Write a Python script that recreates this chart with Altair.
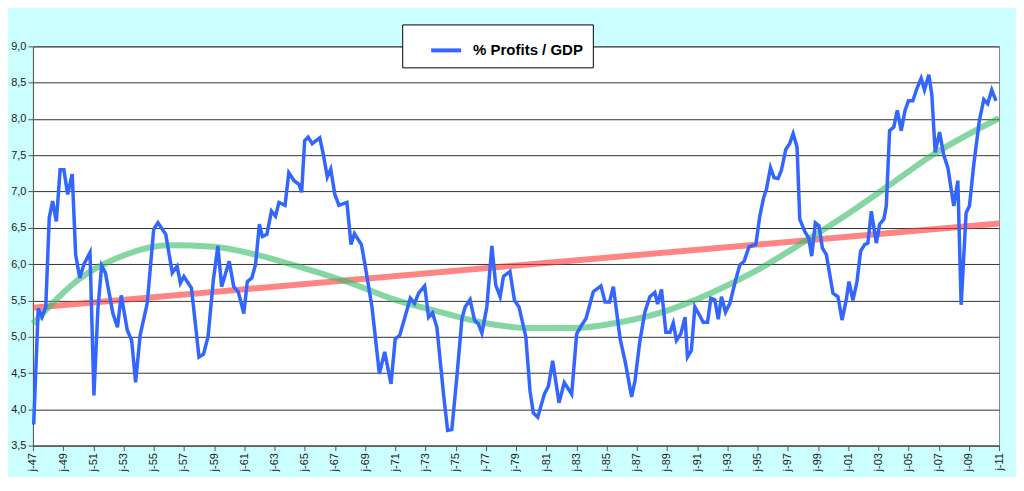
import altair as alt
import pandas as pd

# blue series: (year, % profits / GDP)
profit_year = [
    1947.05, 1947.35, 1947.6, 1947.85, 1948.08, 1948.3, 1948.55, 1948.8, 1949.05, 1949.3,
    1949.6, 1949.83, 1950.1, 1950.38, 1950.78, 1951.04, 1951.3, 1951.55, 1951.8, 1952.3,
    1952.6, 1952.85, 1953.25, 1953.54, 1953.8, 1954.1, 1954.57, 1955.0, 1955.28, 1955.8,
    1956.23, 1956.55, 1956.77, 1957.0, 1957.5, 1958.0, 1958.3, 1958.6, 1958.95, 1959.25,
    1959.5, 1960.0, 1960.3, 1960.6, 1960.97, 1961.2, 1961.5, 1961.75, 1962.0, 1962.2,
    1962.5, 1962.8, 1963.07, 1963.3, 1963.7, 1963.95, 1964.3, 1964.62, 1964.8, 1965.0,
    1965.23, 1965.5, 1966.0, 1966.23, 1966.5, 1966.73, 1967.0, 1967.27, 1967.8, 1968.07,
    1968.3, 1968.76, 1969.0, 1969.46, 1969.95, 1970.3, 1970.72, 1971.0, 1971.3, 1972.0,
    1972.28, 1972.55, 1972.95, 1973.21, 1973.47, 1973.76, 1974.2, 1974.47, 1974.75, 1975.08,
    1975.42, 1975.63, 1975.96, 1976.25, 1976.5, 1976.74, 1977.07, 1977.4, 1977.66, 1977.95,
    1978.17, 1978.6, 1978.9, 1979.2, 1979.65, 1979.93, 1980.15, 1980.44, 1980.88, 1981.15,
    1981.43, 1981.85, 1982.2, 1982.69, 1983.02, 1983.35, 1983.64, 1984.12, 1984.63, 1984.9,
    1985.2, 1985.45, 1985.9, 1986.26, 1986.66, 1986.88, 1987.2, 1987.54, 1987.87, 1988.2,
    1988.38, 1988.64, 1988.93, 1989.2, 1989.42, 1989.63, 1989.92, 1990.2, 1990.36, 1990.62,
    1990.85, 1991.07, 1991.4, 1991.69, 1991.91, 1992.17, 1992.4, 1992.61, 1992.88, 1993.17,
    1993.5, 1993.83, 1994.11, 1994.44, 1994.89, 1995.15, 1995.41, 1995.59, 1995.86, 1996.1,
    1996.36, 1996.58, 1996.87, 1997.13, 1997.36, 1997.62, 1997.8, 1998.13, 1998.39, 1998.59,
    1998.83, 1999.07, 1999.3, 1999.56, 2000.0, 2000.33, 2000.6, 2000.88, 2001.06, 2001.32,
    2001.59, 2001.83, 2002.1, 2002.31, 2002.54, 2002.87, 2003.09, 2003.37, 2003.53, 2003.75,
    2004.03, 2004.26, 2004.52, 2004.78, 2005.0, 2005.29, 2005.56, 2005.84, 2006.06, 2006.35,
    2006.55, 2006.77, 2007.06, 2007.34, 2007.61, 2008.0, 2008.27, 2008.49, 2008.82, 2009.04,
    2009.33, 2009.7, 2009.99, 2010.25, 2010.52, 2010.8,
]
profit_pct = [
    3.79, 5.39, 5.27, 5.41, 6.64, 6.87, 6.59, 7.30, 7.30, 6.96,
    7.24, 6.13, 5.81, 6.00, 6.16, 4.19, 5.37, 5.98, 5.88, 5.32,
    5.13, 5.57, 5.09, 4.95, 4.37, 5.02, 5.46, 6.48, 6.57, 6.41,
    5.88, 5.97, 5.74, 5.83, 5.67, 4.72, 4.76, 5.00, 5.78, 6.25,
    5.69, 6.04, 5.69, 5.62, 5.32, 5.76, 5.81, 6.00, 6.55, 6.38,
    6.41, 6.73, 6.66, 6.85, 6.81, 7.26, 7.15, 7.10, 6.99, 7.70,
    7.75, 7.66, 7.74, 7.52, 7.20, 7.31, 6.96, 6.81, 6.85, 6.27,
    6.42, 6.27, 5.99, 5.41, 4.49, 4.79, 4.35, 4.97, 5.02, 5.53,
    5.46, 5.60, 5.70, 5.27, 5.33, 5.13, 4.21, 3.71, 3.72, 4.44,
    5.25, 5.41, 5.51, 5.23, 5.18, 5.05, 5.41, 6.25, 5.71, 5.55,
    5.83, 5.90, 5.50, 5.41, 5.00, 4.25, 3.95, 3.89, 4.21, 4.32,
    4.67, 4.09, 4.37, 4.21, 5.04, 5.16, 5.25, 5.62, 5.70, 5.48,
    5.48, 5.69, 4.97, 4.63, 4.17, 4.39, 4.93, 5.34, 5.55, 5.61,
    5.45, 5.65, 5.06, 5.06, 5.19, 4.95, 5.04, 5.27, 4.72, 4.81,
    5.41, 5.33, 5.20, 5.20, 5.53, 5.51, 5.24, 5.55, 5.34, 5.46,
    5.74, 5.99, 6.04, 6.24, 6.27, 6.66, 6.92, 7.03, 7.33, 7.19,
    7.18, 7.29, 7.58, 7.66, 7.80, 7.61, 6.62, 6.45, 6.36, 6.11,
    6.57, 6.53, 6.22, 6.13, 5.60, 5.55, 5.23, 5.51, 5.76, 5.50,
    5.76, 6.18, 6.27, 6.29, 6.73, 6.29, 6.55, 6.62, 6.80, 7.84,
    7.89, 8.12, 7.84, 8.12, 8.25, 8.25, 8.42, 8.56, 8.40, 8.61,
    8.33, 7.54, 7.82, 7.50, 7.33, 6.80, 7.15, 5.44, 6.71, 6.80,
    7.38, 7.98, 8.27, 8.21, 8.40, 8.25,
]

# linear trend (red)
lin_year = [1947, 2011]
lin_val = [5.40, 6.56]

# polynomial trend (green)
poly_year = [1947, 1950.04, 1953.0, 1955.99, 1958.98, 1961.96, 1965.0, 1967.9, 1970.96,
             1973.98, 1976.91, 1979.93, 1982.91, 1985.89, 1988.86, 1991.9, 1994.82,
             1997.8, 2000.82, 2003.75, 2006.72, 2009.7, 2011]
poly_val = [5.18, 5.79, 6.12, 6.26, 6.24, 6.12, 5.94, 5.75, 5.51,
            5.34, 5.19, 5.12, 5.12, 5.20, 5.35, 5.60, 5.90,
            6.27, 6.67, 7.09, 7.52, 7.87, 8.01]

tick_years = list(range(1947, 2012, 2))

profits = pd.DataFrame({"Year": profit_year, "Value": profit_pct, "Series": "% Profits / GDP"})
linear = pd.DataFrame({"Year": lin_year, "Value": lin_val})
poly = pd.DataFrame({"Year": poly_year, "Value": poly_val})

x_enc = alt.X(
    "Year:Q",
    scale=alt.Scale(domain=[1947, 2011], nice=False, zero=False),
    axis=alt.Axis(
        values=tick_years, title=None, grid=False, labelAngle=-90,
        labelExpr="'j-' + slice(toString(datum.value), 2)",
        labelFont="Liberation Sans", labelFontSize=11, labelColor="#222",
        domainColor="#555", tickColor="#555",
    ),
)
y_enc = alt.Y(
    "Value:Q",
    scale=alt.Scale(domain=[3.5, 9.0], nice=False, zero=False),
    axis=alt.Axis(
        values=[3.5 + 0.5 * i for i in range(12)], title=None,
        labelExpr="replace(format(datum.value, '.1f'), '.', ',')",
        labelFont="Liberation Sans", labelFontSize=11, labelColor="#222",
        gridColor="#333", gridWidth=1, domainColor="#555", tickColor="#555",
    ),
)

poly_line = alt.Chart(poly).mark_line(
    color="#33BB66", strokeWidth=6, opacity=0.6, interpolate="monotone"
).encode(x=x_enc, y=y_enc)

lin_line = alt.Chart(linear).mark_line(
    color="#FF3333", strokeWidth=6, opacity=0.6
).encode(x=x_enc, y=y_enc)

blue = alt.Chart(profits).mark_line(strokeWidth=3.5).encode(
    x=x_enc,
    y=y_enc,
    color=alt.Color(
        "Series:N",
        scale=alt.Scale(range=["#3366FF"]),
        legend=alt.Legend(
            title=None, orient="none", legendX=370, legendY=-22,
            symbolType="stroke", symbolStrokeWidth=4, symbolSize=900,
            labelFont="Liberation Sans", labelFontSize=15, labelFontWeight="bold",
            labelColor="#000", fillColor="white", strokeColor="#000",
            padding=9, symbolOffset=18, labelOffset=10,
        ),
    ),
)

chart = (
    (lin_line + poly_line + blue)
    .properties(
        width=968, height=400,
        background="#CCFFFF",
        padding={"top": 15, "left": 2, "right": 5, "bottom": 5},
    )
    .configure_view(fill="white", stroke="#888", strokeWidth=1)
)

chart.save("out.html", embed_options={"renderer": "svg", "actions": False})
